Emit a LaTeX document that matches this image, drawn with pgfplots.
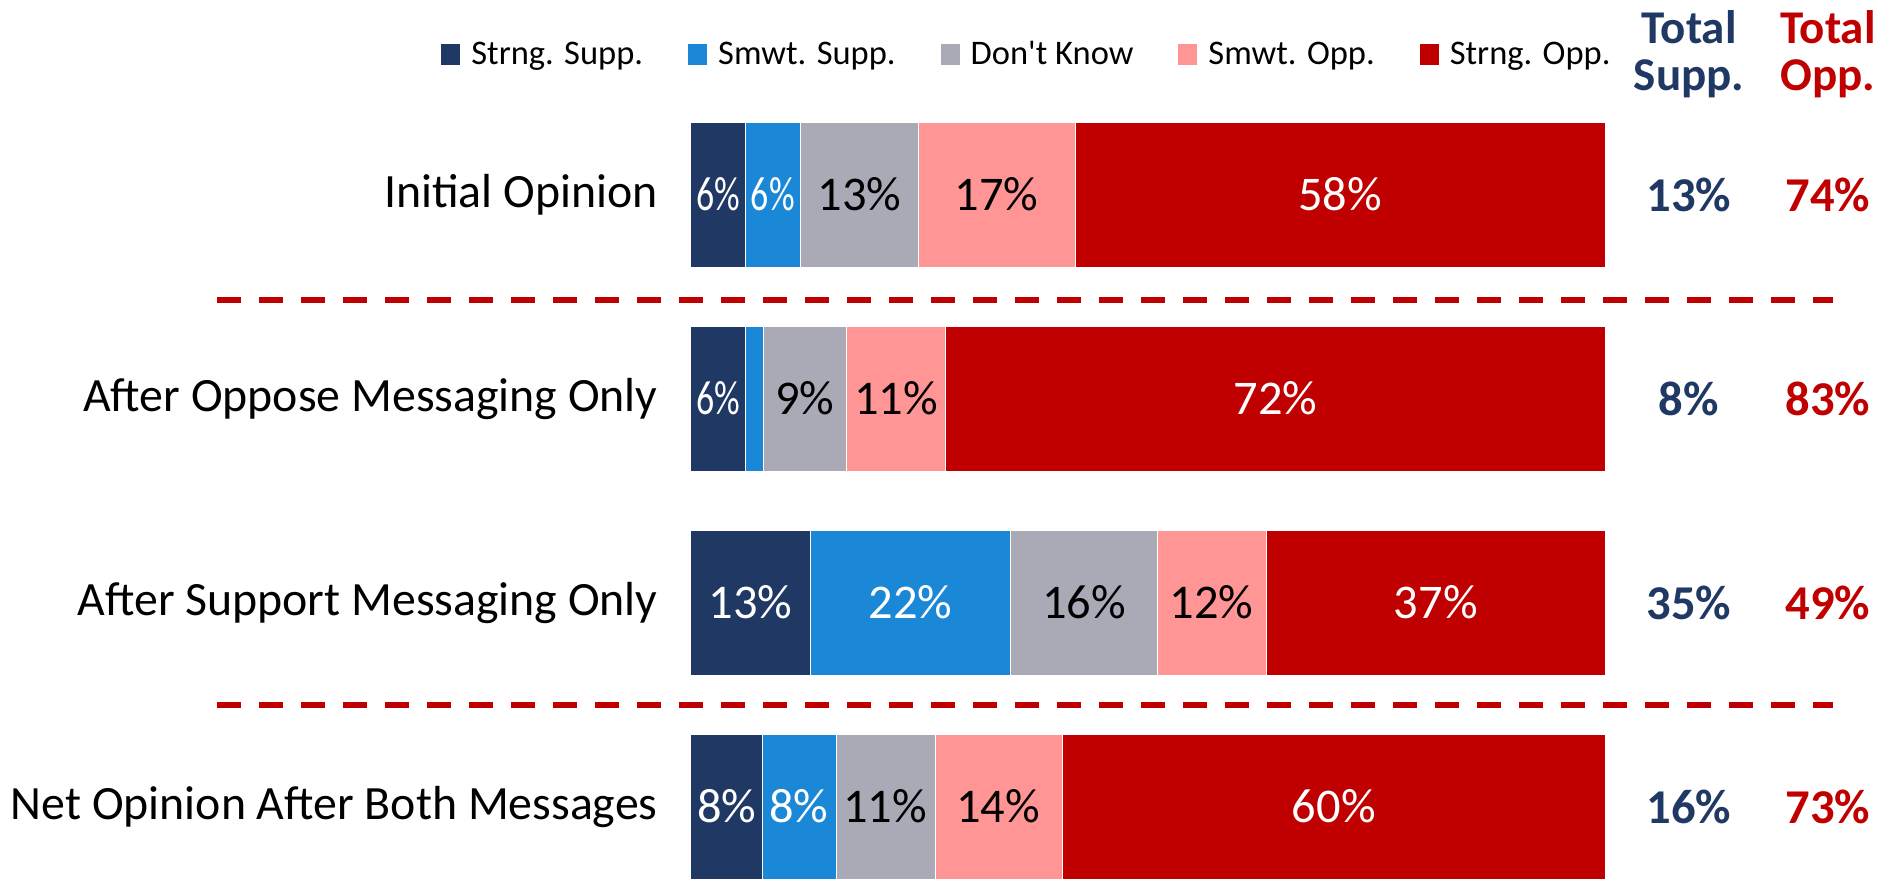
\documentclass[border=0pt]{standalone}
\usepackage{pgfplots}
\pgfplotsset{compat=1.18}
\usepackage{graphicx}
\usepackage{fontspec}
\setmainfont{Carlito}

\definecolor{cSS}{HTML}{1F3864}
\definecolor{cMS}{HTML}{1B88D7}
\definecolor{cDK}{HTML}{A9AAB6}
\definecolor{cMO}{HTML}{FF9595}
\definecolor{cSO}{HTML}{C00000}

% squeezed label for the narrow segments
\newcommand{\narrow}[1]{\scalebox{0.74}[1]{#1}}

\pgfplotsset{
  rowbox/.style={
    at={(345.25pt,-46.25pt)}, anchor=north west,
    scale only axis, width=457.5pt, height=408pt,
    xmin=0, xmax=100, ymin=-0.5, ymax=3.5, y dir=reverse,
    clip=false,
  },
}

\begin{document}
\begin{tikzpicture}
\path[use as bounding box] (0,0) rectangle (941.5pt,-439.5pt);

\begin{axis}[
  rowbox,
  xbar stacked, bar width=72.5pt,
  axis line style={draw=none}, tick style={draw=none},
  xtick=\empty, ytick={0,1,2,3},
  yticklabels={Initial Opinion, After Oppose Messaging Only,
    After Support Messaging Only, Net Opinion After Both Messages},
  yticklabel style={font=\fontsize{23.9}{28}\selectfont, inner sep=0pt, xshift=-16.25pt},
  legend columns=5,
  legend style={at={(-0.2727,1.0466)}, anchor=west, draw=none, fill=none,
    inner sep=0pt, font=\fontsize{17.25}{20}\selectfont,
    nodes={inner sep=0pt},
    /tikz/every odd column/.append style={column sep=5.5pt},
    /tikz/every even column/.append style={column sep=22.5pt}},
  legend image code/.code={\path[#1, draw=none] (0pt,-5.25pt) rectangle (9.5pt,5.25pt);},
]
\addplot[fill=cSS, draw=white, line width=0.3pt] coordinates {(6.0,0) (6.0,1) (13.1,2) (7.9,3)};
\addplot[fill=cMS, draw=white, line width=0.3pt] coordinates {(6.0,0) (2.0,1) (21.9,2) (8.0,3)};
\addplot[fill=cDK, draw=white, line width=0.3pt] coordinates {(12.9,0) (9.0,1) (16.0,2) (10.8,3)};
\addplot[fill=cMO, draw=white, line width=0.3pt] coordinates {(17.1,0) (10.9,1) (11.9,2) (13.9,3)};
\addplot[fill=cSO, draw=white, line width=0.3pt] coordinates {(58.0,0) (72.1,1) (37.1,2) (59.4,3)};
\legend{Strng. Supp., Smwt. Supp., Don\textquotesingle t Know, Smwt. Opp., Strng. Opp.}
\end{axis}

\begin{axis}[
  rowbox, hide axis,
  nodes near coords, point meta=explicit symbolic,
  every node near coord/.append style={anchor=center, inner sep=0pt,
    font=\fontsize{24.2}{28}\selectfont},
]
% labels inside the bars (segment centres)
\addplot[draw=none, every node near coord/.append style={text=white}] coordinates {
  (3.0,0) [\narrow{6\%}] (9.0,0) [\narrow{6\%}] (71.0,0) [58\%]
  (3.0,1) [\narrow{6\%}] (63.95,1) [72\%]
  (6.55,2) [13\%] (24.05,2) [22\%] (81.45,2) [37\%]
  (3.95,3) [8\%] (11.85,3) [8\%] (70.3,3) [60\%]
};
\addplot[draw=none, every node near coord/.append style={text=black}] coordinates {
  (18.45,0) [13\%] (33.45,0) [17\%]
  (12.5,1) [9\%] (22.45,1) [11\%]
  (43.0,2) [16\%] (56.95,2) [12\%]
  (21.25,3) [11\%] (33.6,3) [14\%]
};
% totals
\addplot[draw=none, every node near coord/.append style={text=cSS,
    font=\fontsize{24.3}{28}\selectfont\bfseries}] coordinates {
  (109.1,0) [13\%] (109.1,1) [8\%] (109.1,2) [35\%] (109.1,3) [16\%]
};
\addplot[draw=none, every node near coord/.append style={text=cSO,
    font=\fontsize{24.3}{28}\selectfont\bfseries}] coordinates {
  (124.3,0) [74\%] (124.3,1) [83\%] (124.3,2) [49\%] (124.3,3) [73\%]
};
\end{axis}

% separators
\draw[cSO, line width=3.25pt, dash pattern=on 12pt off 9pt] (108.5pt,-150pt) -- (916.5pt,-150pt);
\draw[cSO, line width=3.25pt, dash pattern=on 12pt off 9pt] (108.5pt,-352.5pt) -- (916.5pt,-352.5pt);

% column headers
\begin{scope}[every node/.style={anchor=base, inner sep=0pt, font=\fontsize{23.5}{28}\selectfont\bfseries}]
\node[text=cSS] at (844.5pt,-21.5pt) {Total};
\node[text=cSS] at (844.5pt,-45pt) {Supp.};
\node[text=cSO] at (914pt,-21.5pt) {Total};
\node[text=cSO] at (914pt,-45pt) {Opp.};
\end{scope}
\end{tikzpicture}
\end{document}
